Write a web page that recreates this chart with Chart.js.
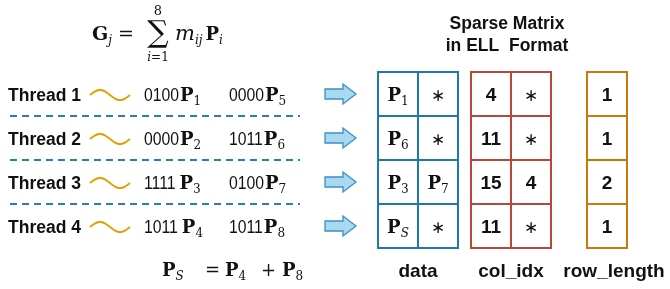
<!DOCTYPE html>
<html>
<head>
<meta charset="utf-8">
<script src="https://cdn.jsdelivr.net/npm/chart.js@4/dist/chart.umd.min.js"></script>
<style>
  body { margin: 0; background: #fff; }
  #wrap { width: 670px; height: 289px; }
</style>
</head>
<body>
<div id="wrap"><canvas id="c" width="670" height="289"></canvas></div>
<script>
// diagram content
const threads = ['Thread 1', 'Thread 2', 'Thread 3', 'Thread 4'];
const masks = [['0100', '0000'], ['0000', '1011'], ['1111', '0100'], ['1011', '1011']];
const pointIdx = [['1', '5'], ['2', '6'], ['3', '7'], ['4', '8']];
const dataCells = [['1', '*'], ['6', '*'], ['3', '7'], ['S', '*']]; // P subscripts
const colIdx = [['4', '*'], ['11', '*'], ['15', '4'], ['11', '*']];
const rowLength = ['1', '1', '2', '1'];
const titleLines = ['Sparse Matrix', 'in ELL  Format'];
const footLabels = ['data', 'col_idx', 'row_length'];

const SANS = '"Liberation Sans", Arial, sans-serif';
const SERIF = '"DejaVu Serif", serif';
const BLUE = '#1f78a8', RED = '#b8473b', ORANGE = '#c9780f';

// layout in axis units (the axes span the whole canvas)
const ROW_TOP = 72, ROW_H = 44, CELL_W = 40;
const grids = [
  { x: 378, cols: 2, color: BLUE },
  { x: 471, cols: 2, color: RED },
  { x: 587, cols: 1, color: ORANGE }
];
const footX = [418, 511, 614];

function mathRun(ctx, parts, px, py) {
  // parts: [text, font, dy]
  let cx = px;
  parts.forEach(([t, f, dy]) => {
    ctx.font = f;
    ctx.fillText(t, cx, py + (dy || 0));
    cx += ctx.measureText(t).width;
  });
  return cx;
}
function mathWidth(ctx, parts) {
  let w = 0;
  parts.forEach(([t, f]) => { ctx.font = f; w += ctx.measureText(t).width; });
  return w;
}
const Pb = 'bold 18px ' + SERIF, SUB = '12px ' + SERIF, SUBI = 'italic 12px ' + SERIF;
const pSub = s => [['P', Pb], [s, /\d/.test(s) ? SUB : SUBI, 4]];

const diagram = {
  id: 'diagram',
  afterDraw(chart) {
    const { ctx, scales: { x, y } } = chart;
    const X = v => x.getPixelForValue(v), Y = v => y.getPixelForValue(v);
    ctx.save();
    ctx.fillStyle = '#111';
    ctx.textBaseline = 'alphabetic';
    ctx.textAlign = 'left';

    // top formula
    mathRun(ctx, [['G', 'bold 19px ' + SERIF], ['j', SUBI, 4]], X(92), Y(40));
    mathRun(ctx, [['=', '19px ' + SERIF]], X(118), Y(40));
    ctx.textAlign = 'center';
    ctx.font = '30px ' + SERIF;
    ctx.fillText('\u2211', X(158), Y(42));
    ctx.font = '13px ' + SERIF;
    ctx.fillText('8', X(158), Y(15));
    ctx.textAlign = 'left';
    const lim = [['i', 'italic 12px ' + SERIF], ['=1', '12px ' + SERIF]];
    mathRun(ctx, lim, X(158) - mathWidth(ctx, lim) / 2, Y(61));
    const mEnd = mathRun(ctx, [['m', 'italic 21px ' + SERIF], ['ij', SUBI, 4]], X(175), Y(40));
    mathRun(ctx, [['P', Pb], ['i', SUBI, 4]], mEnd + 3, Y(40));

    // thread rows
    threads.forEach((t, r) => {
      const cy = ROW_TOP + ROW_H * r + ROW_H / 2;
      const base = cy + 7;
      ctx.fillStyle = '#111';
      ctx.font = 'bold 17.5px ' + SANS;
      ctx.fillText(t, X(8), Y(base));

      // wave
      ctx.strokeStyle = '#e0a100';
      ctx.lineWidth = 2;
      ctx.beginPath();
      for (let i = 0; i <= 40; i++) {
        const wx = 90 + i, wy = cy + 1 - 5 * Math.sin(i / 40 * 2 * Math.PI);
        i ? ctx.lineTo(X(wx), Y(wy)) : ctx.moveTo(X(wx), Y(wy));
      }
      ctx.stroke();

      // mask + point terms
      [144, 229].forEach((mx, k) => {
        const m = masks[r][k];
        ctx.font = '17.5px ' + SANS;
        ctx.save();
        ctx.translate(X(mx), Y(base));
        ctx.scale(0.9, 1);
        ctx.fillText(m, 0, 0);
        ctx.restore();
        const w = ctx.measureText(m).width * 0.9;
        const gap = (k === 0 && (r === 2 || r === 3)) ? 4 : 1;
        mathRun(ctx, pSub(pointIdx[r][k]), X(mx) + w + gap, Y(base));
      });

      // dashed separator
      if (r < threads.length - 1) {
        ctx.strokeStyle = '#2a7fb0';
        ctx.lineWidth = 2;
        ctx.setLineDash([7, 5]);
        ctx.beginPath();
        ctx.moveTo(X(10), Y(ROW_TOP + ROW_H * (r + 1)));
        ctx.lineTo(X(300), Y(ROW_TOP + ROW_H * (r + 1)));
        ctx.stroke();
        ctx.setLineDash([]);
      }

      // arrow
      ctx.fillStyle = '#a9d9ef';
      ctx.strokeStyle = '#3b8fc2';
      ctx.lineWidth = 1.3;
      ctx.beginPath();
      ctx.moveTo(X(325), Y(cy - 5));
      ctx.lineTo(X(343), Y(cy - 5));
      ctx.lineTo(X(343), Y(cy - 10));
      ctx.lineTo(X(356), Y(cy));
      ctx.lineTo(X(343), Y(cy + 10));
      ctx.lineTo(X(343), Y(cy + 5));
      ctx.lineTo(X(325), Y(cy + 5));
      ctx.closePath();
      ctx.fill();
      ctx.stroke();
    });

    // grids
    const contents = [dataCells, colIdx, rowLength.map(v => [v])];
    grids.forEach((g, gi) => {
      for (let r = 0; r < 4; r++) {
        for (let c = 0; c < g.cols; c++) {
          const x0 = g.x + CELL_W * c, y0 = ROW_TOP + ROW_H * r;
          const cx = x0 + CELL_W / 2, cy = y0 + ROW_H / 2;
          const v = contents[gi][r][c];
          ctx.fillStyle = '#111';
          ctx.textAlign = 'left';
          if (v === '*') {
            ctx.font = '17px "Liberation Serif", serif';
            ctx.textAlign = 'center';
            ctx.fillText('\u2217', X(cx), Y(cy + 7));
          } else if (gi === 0) {
            const parts = pSub(v);
            const w = mathWidth(ctx, parts);
            mathRun(ctx, parts, X(cx) - w / 2, Y(cy + 7));
          } else {
            ctx.font = 'bold 19px ' + SANS;
            ctx.textAlign = 'center';
            ctx.fillText(v, X(cx), Y(cy + 7));
          }
        }
      }
      ctx.strokeStyle = g.color;
      ctx.lineWidth = 2;
      for (let r = 0; r < 4; r++) {
        for (let c = 0; c < g.cols; c++) {
          const x0 = g.x + CELL_W * c, y0 = ROW_TOP + ROW_H * r;
          ctx.strokeRect(X(x0), Y(y0), X(x0 + CELL_W) - X(x0), Y(y0 + ROW_H) - Y(y0));
        }
      }
    });

    // titles and labels
    ctx.fillStyle = '#111';
    ctx.textAlign = 'center';
    ctx.font = 'bold 17.5px ' + SANS;
    ctx.fillText(titleLines[0], X(507), Y(29));
    ctx.fillText(titleLines[1], X(507), Y(51));
    ctx.font = 'bold 19px ' + SANS;
    footLabels.forEach((l, i) => ctx.fillText(l, X(footX[i]), Y(277)));

    // bottom formula
    ctx.textAlign = 'left';
    mathRun(ctx, pSub('S'), X(162), Y(276));
    mathRun(ctx, [['=', '18px ' + SERIF]], X(205), Y(276));
    mathRun(ctx, pSub('4'), X(225), Y(276));
    mathRun(ctx, [['+', '18px ' + SERIF]], X(261), Y(276));
    mathRun(ctx, pSub('8'), X(282), Y(276));
    ctx.restore();
  }
};

new Chart(document.getElementById('c'), {
  type: 'scatter',
  data: { datasets: [{ data: [], pointRadius: 0 }] },
  options: {
    responsive: false,
    animation: false,
    layout: { padding: 0 },
    plugins: { legend: { display: false }, tooltip: { enabled: false } },
    scales: {
      x: { type: 'linear', min: 0, max: 670, display: false },
      y: { type: 'linear', min: 0, max: 289, reverse: true, display: false }
    }
  },
  plugins: [diagram]
});
</script>
</body>
</html>
